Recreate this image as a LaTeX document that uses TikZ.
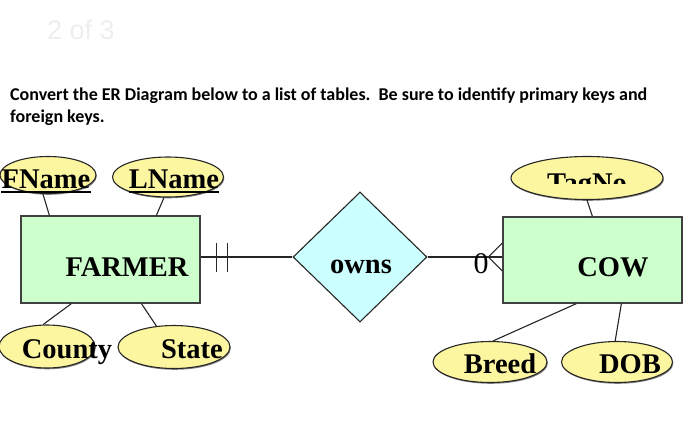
\documentclass[tikz,border=0pt]{standalone}
\usepackage{fontspec}
\setmainfont{Liberation Serif}
\newfontfamily\calib{Carlito}
\newfontfamily\arialf{Liberation Sans}
\usetikzlibrary{shapes.geometric,calc,shadows}
\definecolor{attrfill}{RGB}{252,246,160}
\definecolor{entfill}{RGB}{204,255,204}
\definecolor{relfill}{RGB}{204,255,255}
\definecolor{pagegrey}{RGB}{238,238,238}
\begin{document}
\begin{tikzpicture}[x=1pt,y=-1pt,
  attr/.style={ellipse, draw=black!85, line width=1.1pt, fill=attrfill, inner sep=0pt,
    drop shadow={shadow xshift=0.8pt, shadow yshift=-1.3pt, fill=black!60, opacity=0.8}},
  entity/.style={rectangle, draw=black!75, line width=1.2pt, fill=entfill, inner sep=0pt},
  rel/.style={diamond, draw=black!85, line width=1.1pt, fill=relfill, inner sep=0pt},
  lbl/.style={font=\fontsize{28.5}{30}\selectfont\bfseries, inner sep=0pt, anchor=base},
  instr/.style={font=\calib\bfseries\fontsize{18}{22}\selectfont, inner sep=0pt, anchor=base west},
  conn/.style={draw=black!85, line width=1.1pt},
  uline/.style={line width=1.6pt},
]
\useasboundingbox (0,0) rectangle (700,442);
\fill[white] (0,0) rectangle (700,442);

% header
\node[font=\arialf\fontsize{27}{27}\selectfont, text=pagegrey, anchor=base, inner sep=0pt] (pg) at (81,39) {2 of 3};
\node[instr] (instr1) at (10,100) {Convert the ER Diagram below to a list of tables.~~Be sure to identify primary keys and};
\node[instr] (instr2) at (10,122.7) {foreign keys.};

% entities and relationship
\node[entity, minimum width=179pt, minimum height=87pt] (farmer) at (110.5,259.5) {};
\node[entity, minimum width=179pt, minimum height=86pt] (cow) at (592.5,260) {};
\node[rel, minimum width=134pt, minimum height=130pt] (owns) at (360,257) {};

% attributes
\node[attr, minimum width=96pt, minimum height=37pt] (fname) at (48,175) {};
\node[attr, minimum width=111pt, minimum height=40pt] (lname) at (168,177) {};
\node[attr, minimum width=152pt, minimum height=43pt] (tagno) at (587,178) {};
\node[attr, minimum width=96pt, minimum height=43pt] (county) at (47,346.5) {};
\node[attr, minimum width=112pt, minimum height=43pt] (state) at (174,347) {};
\node[attr, minimum width=114pt, minimum height=41pt] (breed) at (490,362) {};
\node[attr, minimum width=111pt, minimum height=41pt] (dob) at (617,362) {};

% attribute connectors
\draw[conn] (fname.255) -- ($(farmer.north west)+(29,0)$);
\draw[conn] (lname.259) -- ($(farmer.north west)+(136,0)$);
\draw[conn] (county.100) -- ($(farmer.south west)+(51,0)$);
\draw[conn] (state.130) -- ($(farmer.south west)+(121,0)$);
\draw[conn] (tagno.south) -- ($(cow.north west)+(90,0)$);
\draw[conn] (breed.82) -- ($(cow.south west)+(74,0)$);
\draw[conn] (dob.95) -- ($(cow.south west)+(119,0)$);

% relationship connectors
\coordinate (fe) at (farmer.east |- owns.west);
\coordinate (ce) at (cow.west |- owns.east);
\draw[conn] (fe) -- (owns.west);
\draw[conn] ($(fe)+(16,-14)$) -- ++(0,29);
\draw[conn] ($(fe)+(27,-14)$) -- ++(0,29);
\draw[conn] (owns.east) -- (ce);
\coordinate (cf) at ($(ce)+(-14,0)$);
\draw[conn] ($(ce)+(0,-14)$) -- (cf) -- ($(ce)+(0,14)$);
\node[font=\fontsize{30}{30}\selectfont, inner sep=0pt, anchor=base] (zero) at (481,273) {0};

% labels
\node[lbl] (fnametxt) at (46,188) {FName};
\draw[uline] ([yshift=-4pt]fnametxt.base west) -- ([yshift=-4pt]fnametxt.base east);
\node[lbl] (lnametxt) at (174,188) {LName};
\draw[uline] ([yshift=-4pt]lnametxt.base west) -- ([yshift=-4pt]lnametxt.base east);
\begin{scope}
  \clip (500,150) rectangle (680,183);
  \node[lbl] (tagtxt) at (587,192) {TagNo};
\end{scope}
\node[lbl] (farmertxt) at (127,276) {FARMER};
\node[lbl] (cowtxt) at (613,276) {COW};
\node[lbl] (ownstxt) at (361,273) {owns};
\node[lbl] (countytxt) at (67,358) {County};
\node[lbl] (statetxt) at (192,358) {State};
\node[lbl] (breedtxt) at (500,373) {Breed};
\node[lbl] (dobtxt) at (630,373) {DOB};
\end{tikzpicture}
\end{document}
